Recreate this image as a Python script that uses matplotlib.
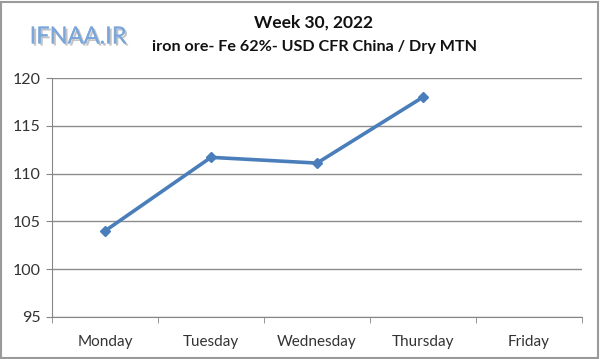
import matplotlib
matplotlib.use("Agg")
import matplotlib.pyplot as plt
import matplotlib.patheffects as pe
from matplotlib.patches import Rectangle

days = ["Monday", "Tuesday", "Wednesday", "Thursday", "Friday"]
prices = [104.0, 111.7, 111.1, 118.0]
yticks = [95, 100, 105, 110, 115, 120]

plt.rcParams['font.family'] = ['Lato', 'DejaVu Sans']

fig = plt.figure(figsize=(6, 3.59), dpi=100)
ax = fig.add_axes([52/600, 1 - 317/359, 530/600, 239/359])

x = list(range(len(prices)))
ax.plot(x, prices, color="#4a7ebb", lw=2.6, marker="D", ms=5.5,
        markerfacecolor="#4a7ebb", markeredgecolor="#4a7ebb", zorder=3)

ax.set_xlim(-0.5, len(days) - 0.5)
ax.set_ylim(95, 120)
ax.set_yticks(yticks)
ax.set_yticklabels([str(v) for v in yticks], fontsize=11.5, color="#333333")
ax.set_xticks(range(len(days)))
ax.set_xticklabels(days, fontsize=11, color="#333333")
ax.set_xticks([i - 0.5 for i in range(len(days) + 1)], minor=True)
ax.tick_params(axis="x", which="major", length=0, pad=13)
ax.tick_params(axis="x", which="minor", length=4, color="#868686", direction="out")
ax.tick_params(axis="y", length=4, color="#868686", direction="out", pad=4)

ax.grid(axis="y", color="#8c8c8c", lw=1)
ax.set_axisbelow(True)
for s in ["top", "right"]:
    ax.spines[s].set_visible(False)
ax.spines["left"].set_color("#868686")
ax.spines["bottom"].set_color("#868686")

fig.text(314/600, 1 - 23/359, "Week 30, 2022", ha="center", va="center",
         fontsize=12.5, fontweight="bold", color="#111111")
fig.text(315/600, 1 - 47/359, "iron ore- Fe 62%- USD CFR China / Dry MTN",
         ha="center", va="center", fontsize=11.6, fontweight="bold", color="#111111")

fig.text(78/600, 1 - 37/359, "IFNAA.IR", ha="center", va="center",
         fontsize=17, color="#7aa6dc",
         path_effects=[pe.withSimplePatchShadow(offset=(1.5, -1.5), shadow_rgbFace="#9a9a9a", alpha=0.6),
                       pe.Normal()])

fig.patches.append(Rectangle((1/600, 1/359), 597/600, 356/359, transform=fig.transFigure,
                             fill=False, edgecolor="#9a9a9a", lw=1.5))

fig.savefig("out.png", dpi=100)
